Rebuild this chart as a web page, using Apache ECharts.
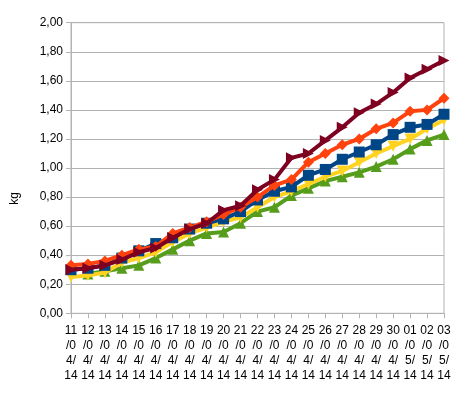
<!DOCTYPE html>
<html><head><meta charset="utf-8">
<script src="https://cdn.jsdelivr.net/npm/echarts@6/dist/echarts.min.js"></script>
<style>html,body{margin:0;padding:0;background:#fff}#c{width:471px;height:394px}</style>
</head><body><div id="c"></div>
<script>
var categories = ["11/04/14","12/04/14","13/04/14","14/04/14","15/04/14","16/04/14","17/04/14","18/04/14","19/04/14","20/04/14","21/04/14","22/04/14","23/04/14","24/04/14","25/04/14","26/04/14","27/04/14","28/04/14","29/04/14","30/04/14","01/05/14","02/05/14","03/05/14"];
var maroon = [0.30,0.31,0.33,0.37,0.42,0.45,0.52,0.58,0.62,0.71,0.74,0.85,0.92,1.07,1.10,1.19,1.28,1.38,1.44,1.52,1.62,1.68,1.74];
var orange = [0.33,0.34,0.36,0.40,0.44,0.46,0.55,0.59,0.63,0.68,0.73,0.80,0.88,0.92,1.04,1.10,1.16,1.20,1.27,1.31,1.39,1.40,1.48];
var blue   = [0.30,0.31,0.33,0.38,0.43,0.48,0.52,0.58,0.62,0.65,0.70,0.78,0.84,0.87,0.95,0.99,1.06,1.11,1.16,1.23,1.28,1.30,1.37];
var yellow = [0.25,0.26,0.28,0.35,0.38,0.42,0.49,0.55,0.59,0.63,0.66,0.73,0.80,0.84,0.89,0.94,0.98,1.04,1.10,1.15,1.20,1.27,1.33];
var green  = [null,0.27,0.29,0.31,0.33,0.38,0.44,0.50,0.55,0.56,0.62,0.70,0.73,0.81,0.86,0.91,0.94,0.97,1.01,1.06,1.13,1.19,1.23];
var yTicks = [0,0.2,0.4,0.6,0.8,1.0,1.2,1.4,1.6,1.8,2.0];

function mk(name, data, color, symbol, rot, z){
  return {name:name, type:'line', data:data, z:z, symbol:symbol, symbolSize:11, symbolRotate:rot,
    showSymbol:true, lineStyle:{width:4,color:color}, itemStyle:{color:color}, connectNulls:false, animation:false};
}
var chart = echarts.init(document.getElementById('c'), null, {renderer:'canvas'});
chart.setOption({
  animation:false,
  grid:{left:71,right:27,top:22.7,bottom:80.7,show:true,borderColor:'#b3b3b3',borderWidth:1,containLabel:false},
  xAxis:{type:'category',data:categories,boundaryGap:false,
    axisLine:{lineStyle:{color:'#b3b3b3'}},
    axisTick:{show:true,length:5,inside:false,lineStyle:{color:'#b3b3b3'},alignWithLabel:true},
    axisLabel:{interval:0,margin:10,color:'#000',fontFamily:'Liberation Sans',fontSize:12,lineHeight:15,
      formatter:function(v){var p=v.split('/');return p[0]+'\n/'+p[1].charAt(0)+'\n'+p[1].charAt(1)+'/\n'+p[2];}},
    splitLine:{show:false}},
  yAxis:{type:'value',min:0,max:2,interval:0.2,
    axisLine:{show:true,lineStyle:{color:'#b3b3b3'}},
    axisTick:{show:true,length:5,lineStyle:{color:'#b3b3b3'}},
    axisLabel:{margin:8,color:'#000',fontFamily:'Liberation Sans',fontSize:12,
      formatter:function(v){return v.toFixed(2).replace('.',',');}},
    splitLine:{lineStyle:{color:'#b3b3b3'}}},
  graphic:[{type:'text',left:9,top:192,rotation:Math.PI/2,style:{text:'kg',fill:'#000',font:'12px "Liberation Sans"'}}],
  series:[
    mk('green',green,'#579D1C','triangle',0,5),
    mk('yellow',yellow,'#FFD320','triangle',180,6),
    mk('blue',blue,'#004586','rect',0,7),
    mk('orange',orange,'#FF420E','diamond',0,8),
    mk('maroon',maroon,'#7E0021','triangle',-90,9)
  ]
});
</script></body></html>
